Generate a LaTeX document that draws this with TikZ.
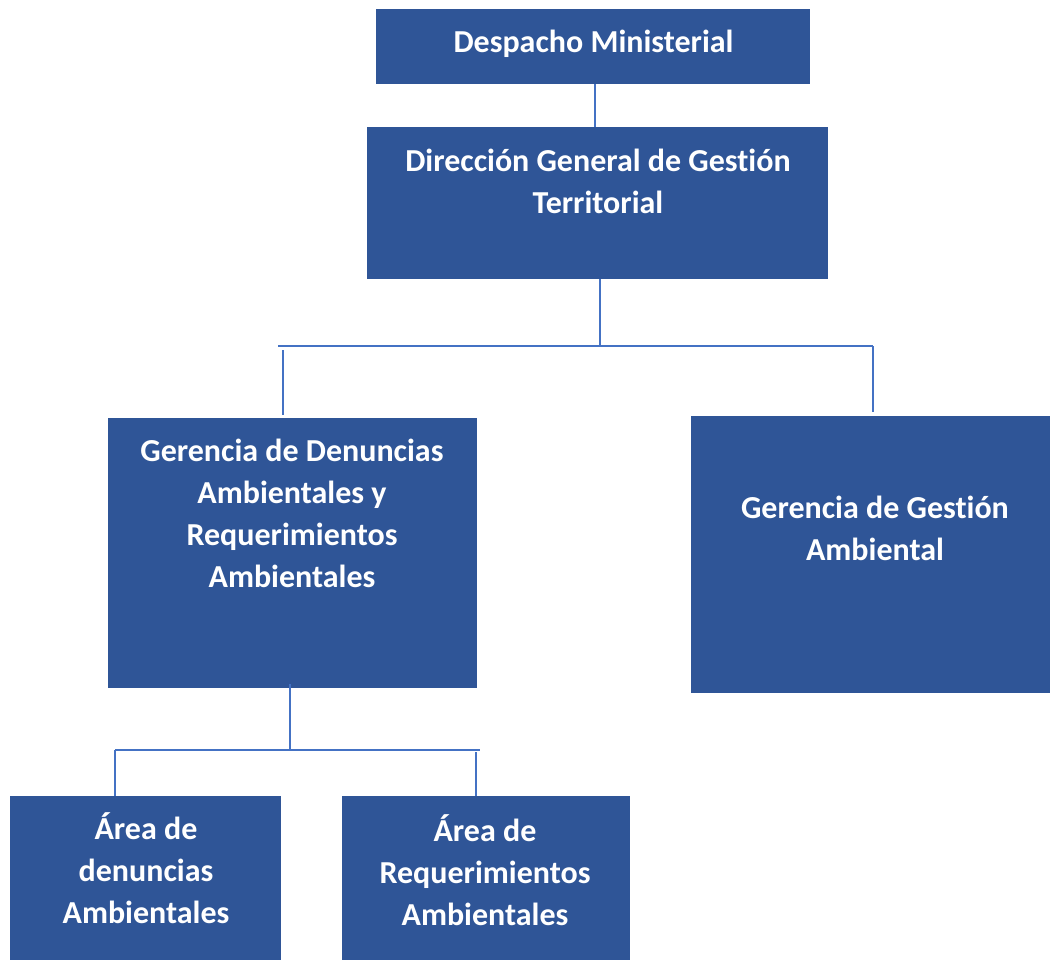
\documentclass[tikz,border=0pt]{standalone}
\usepackage{fontspec}
\setmainfont{Carlito}[Ligatures=NoCommon]
\definecolor{boxblue}{HTML}{2F5597}
\definecolor{lineblue}{HTML}{4472C4}
\newcommand{\topstrut}{\rule{0pt}{30pt}}
\begin{document}
\begin{tikzpicture}[x=1pt,y=-1pt,
  orgbox/.style={fill=boxblue,draw=none,inner sep=0pt,outer sep=0pt},
  orgtext/.style={text=white,font=\fontsize{32}{42}\selectfont\bfseries,align=center,inner sep=0pt,anchor=north},
  link/.style={draw=lineblue,line width=2.8pt}]
\useasboundingbox (0,0) rectangle (1050,960);
% boxes
\node[orgbox,minimum width=434pt,minimum height=75pt] (d) at (593,46.5) {};
\node[orgbox,minimum width=461pt,minimum height=152pt] (dg) at (597.5,203) {};
\node[orgbox,minimum width=369pt,minimum height=270pt] (gd) at (292.5,553) {};
\node[orgbox,minimum width=359pt,minimum height=277pt] (gg) at (870.5,554.5) {};
\node[orgbox,minimum width=271pt,minimum height=164pt] (ad) at (145.5,878) {};
\node[orgbox,minimum width=288pt,minimum height=164pt] (ar) at (486,878) {};
% texts
\node[orgtext] (td) at (593.5,22) {\topstrut Despacho Ministerial};
\node[orgtext] (tdg) at (598,141) {\topstrut Dirección General de Gestión\\Territorial};
\node[orgtext] (tgd) at (292,431) {\topstrut Gerencia de Denuncias\\Ambientales y\\Requerimientos\\Ambientales};
\node[orgtext] (tgg) at (875,488) {\topstrut Gerencia de Gestión\\Ambiental};
\node[orgtext] (tad) at (146,809) {\topstrut Área de\\denuncias\\Ambientales};
\node[orgtext] (tar) at (485,811) {\topstrut Área de\\Requerimientos\\Ambientales};
% junction coordinates
\coordinate (c1) at (595,0);
\coordinate (j1) at (600,346);
\coordinate (h1l) at (278,346);
\coordinate (h1r) at (873,346);
\coordinate (v1l) at (283,350);
\coordinate (j2) at (290,750);
\coordinate (h2l) at (115,750);
\coordinate (h2r) at (480,750);
\coordinate (v2r) at (476,752);
% connectors
\draw[link] (d.south -| c1) -- (dg.north -| c1);
\draw[link] (dg.south -| j1) -- (j1);
\draw[link] (h1l) -- (h1r);
\draw[link] (v1l) -- ([yshift=3pt]gd.north -| v1l);
\draw[link] (h1r) -- ([yshift=4pt]gg.north -| h1r);
\draw[link] ([yshift=4pt]gd.south -| j2) -- (j2);
\draw[link] (h2l) -- (h2r);
\draw[link] (h2l) -- (ad.north -| h2l);
\draw[link] (v2r) -- (ar.north -| v2r);
\end{tikzpicture}
\end{document}
